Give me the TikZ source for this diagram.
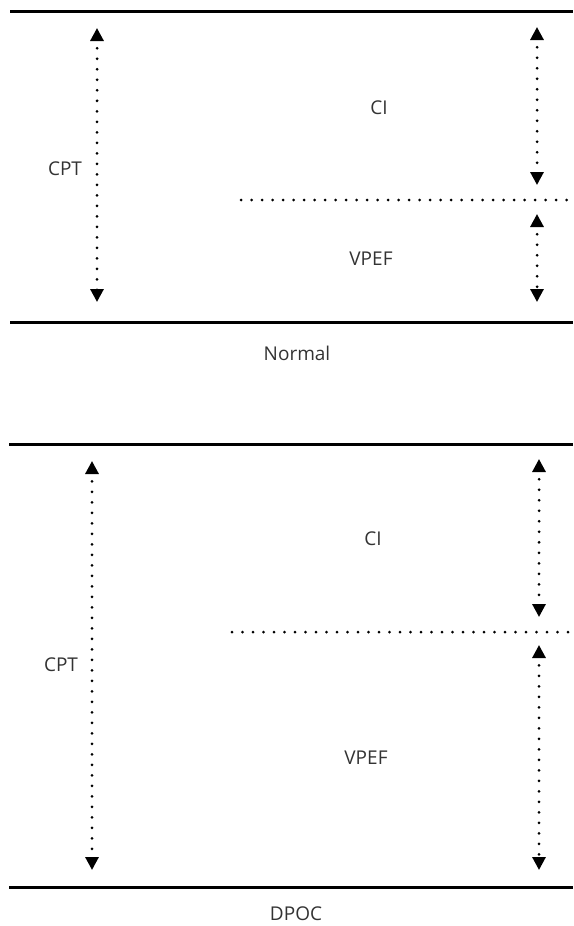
\documentclass[tikz,border=0pt]{standalone}
\usepackage{fontspec}
\setmainfont{Open Sans}
\usetikzlibrary{arrows.meta}
\usetikzlibrary{positioning}
\tikzset{bar/.style={line width=3pt},
dotline/.style={line width=3pt, line cap=round, dash pattern=on 0pt off 10.5pt},
dotarrow/.style={dotline, dash phase=2.5pt,
  {Triangle[width=13pt,length=13pt]}-{Triangle[width=13pt,length=13pt]}},
lbl/.style={font=\fontsize{19}{21}\selectfont, text=black!80, inner sep=0pt}}

\begin{document}
\begin{tikzpicture}[x=1pt, y=-1pt]
  \useasboundingbox (0,0) rectangle (573,926);
  % Normal
  \coordinate (nA) at (10,11);   \coordinate (nB) at (573,11);
  \coordinate (nC) at (10,322);  \coordinate (nD) at (573,322);
  \draw[bar] (nA) -- (nB);
  \draw[bar] (nC) -- (nD);
  \coordinate (ncptT) at (97,28);   \coordinate (ncptB) at (97,302);
  \coordinate (nciT) at (537,27);   \coordinate (nciB) at (537,185);
  \coordinate (nvpT) at (537,214);  \coordinate (nvpB) at (537,302);
  \coordinate (nmidL) at (241,200); \coordinate (nmidR) at (573,200);
  \draw[dotarrow] (ncptT) -- (ncptB);
  \draw[dotarrow] (nciT) -- (nciB);
  \draw[dotarrow] (nvpT) -- (nvpB);
  \draw[dotline] (nmidL) -- (nmidR);
  \node[lbl] (ncpt) at (65,169) {CPT};
  \node[lbl] (nci) at (379,108) {CI};
  \node[lbl] (nvp) at (371,259) {VPEF};
  \node[lbl] (normal) at (297,353) {Normal};
  % DPOC
  \coordinate (dA) at (9,444);   \coordinate (dB) at (573,444);
  \coordinate (dC) at (9,887);   \coordinate (dD) at (573,887);
  \draw[bar] (dA) -- (dB);
  \draw[bar] (dC) -- (dD);
  \coordinate (dcptT) at (92,461);  \coordinate (dcptB) at (92,870);
  \coordinate (dciT) at (539,459);  \coordinate (dciB) at (539,617);
  \coordinate (dvpT) at (539,645);  \coordinate (dvpB) at (539,870);
  \coordinate (dmidL) at (232,632); \coordinate (dmidR) at (573,632);
  \draw[dotarrow] (dcptT) -- (dcptB);
  \draw[dotarrow] (dciT) -- (dciB);
  \draw[dotarrow] (dvpT) -- (dvpB);
  \draw[dotline] (dmidL) -- (dmidR);
  \node[lbl] (dcpt) at (61,665) {CPT};
  \node[lbl] (dci) at (373,539) {CI};
  \node[lbl] (dvp) at (366,758) {VPEF};
  \node[lbl] (dpoc) at (296,914) {DPOC};
\end{tikzpicture}
\end{document}
